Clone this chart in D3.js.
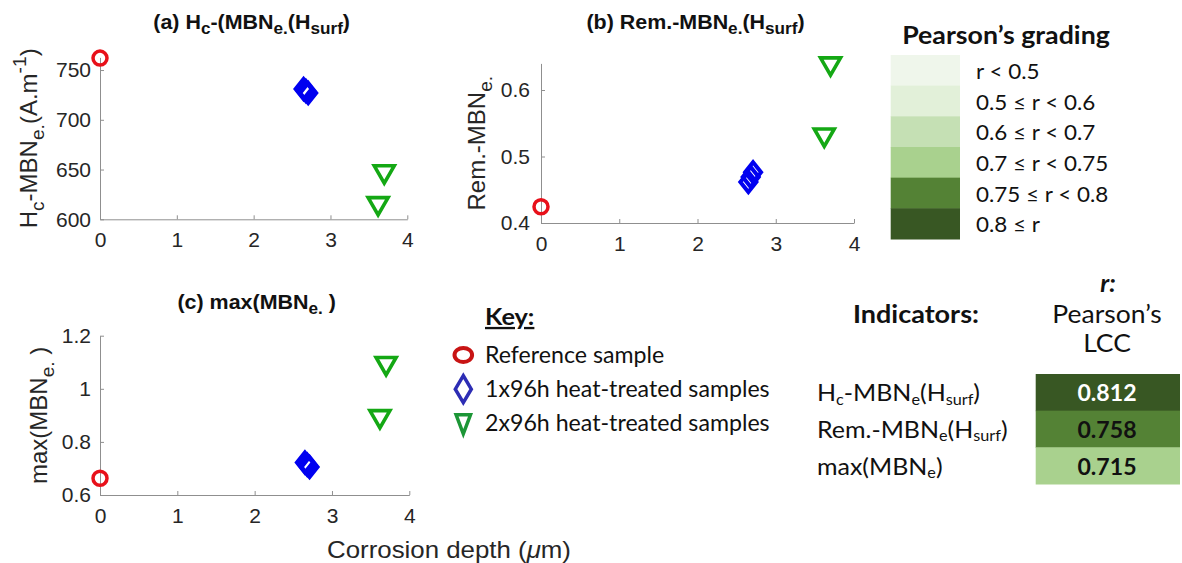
<!DOCTYPE html>
<html>
<head>
<meta charset="utf-8">
<script src="https://cdn.jsdelivr.net/npm/d3@7"></script>
<style>
  body { margin: 0; background: #fff; }
  svg { display: block; }
</style>
</head>
<body>
<svg id="fig" width="1182" height="563"></svg>
<script>
// ---- measured values per sample group ----
const depthRef = [0];
const depth1x = [2.65, 2.68, 2.71];
const depth2x = [3.62, 3.70];

const hcRef = [762];
const hc1x = [731, 729, 727];
const hc2x = [613.5, 645.5];

const remRef = [0.4245];
const rem1x = [0.4615, 0.469, 0.4765];
const rem2x = [0.529, 0.636];

const maxRef = [0.663];
const max1x = [0.7225, 0.714, 0.7055];
const max2x = [0.887, 1.087];

const xTicks = [0, 1, 2, 3, 4];
const hcTicks = [600, 650, 700, 750];
const remTicks = [0.4, 0.5, 0.6];
const maxTicks = [0.6, 0.8, 1, 1.2];

// Pearson grading legend
const gradeLabels = ["r < 0.5", "0.5 ≤ r < 0.6", "0.6 ≤ r < 0.7", "0.7 ≤ r < 0.75", "0.75 ≤ r < 0.8", "0.8 ≤ r"];
const gradeColors = ["#eff6eb", "#e2f0d9", "#c5e0b4", "#a9d18e", "#548235", "#385723"];
const gradeBreaks = [0.5, 0.6, 0.7, 0.75, 0.8];

// indicator table
const indicatorLabels = [
  [{t: "H"}, {t: "c", sub: 1}, {t: "-MBN"}, {t: "e", sub: 1}, {t: "(H"}, {t: "surf", sub: 1}, {t: ")"}],
  [{t: "Rem.-MBN"}, {t: "e", sub: 1}, {t: "(H"}, {t: "surf", sub: 1}, {t: ")"}],
  [{t: "max(MBN"}, {t: "e", sub: 1}, {t: ")"}]
];
const pearsonR = [0.812, 0.758, 0.715];

const keyLabels = ["Reference sample", "1x96h heat-treated samples", "2x96h heat-treated samples"];

// ---- styling ----
const MFONT = "'Liberation Sans', Arial, Helvetica, sans-serif";
const CFONT = "Lato, 'Open Sans', sans-serif";
const INK = "#262626";
const AXIS = "#8f8f8f";
const RED = "#e8101a", BLUE = "#0000f0", GREEN = "#14a814";

const svg = d3.select("#fig");
svg.append("rect").attr("width", 1182).attr("height", 563).attr("fill", "#fff");

// horizontal text anchored at (x, y), optionally widened by sx
function label(parent, x, y, sx) {
  return parent.append("text").attr("transform", `translate(${x},${y}) scale(${sx || 1},1)`);
}

// text with sub/superscripts built from tspans
function rich(text, parts, size, scale, subShift, supShift) {
  let cur = 0;
  parts.forEach(p => {
    const target = p.sub ? subShift * size : (p.sup ? -supShift * size : 0);
    const ts = text.append("tspan").text(p.t).attr("dy", target - cur);
    if (p.sub || p.sup) ts.attr("font-size", size * scale);
    if (p.it) ts.attr("font-style", "italic");
    cur = target;
  });
  return text;
}

// marker shapes (unfilled outlines)
function diamondPath(hw, hh) {
  const p = d3.path();
  p.moveTo(0, -hh); p.lineTo(hw, 0); p.lineTo(0, hh); p.lineTo(-hw, 0); p.closePath();
  return p.toString();
}
function triDownPath(hw, hTop, hBot) {
  const p = d3.path();
  p.moveTo(-hw, -hTop); p.lineTo(hw, -hTop); p.lineTo(0, hBot); p.closePath();
  return p.toString();
}

function panel(cfg) {
  const g = svg.append("g");
  const x = d3.scaleLinear().domain([0, 4]).range([cfg.x0, cfg.x1]);
  const y = d3.scaleLinear().domain(cfg.yDom).range([cfg.yb, cfg.yt]);

  const ax = g.append("g").attr("transform", `translate(0,${cfg.yb})`)
    .call(d3.axisBottom(x).tickValues(xTicks).tickSizeInner(-4).tickSizeOuter(0).tickPadding(13)
      .tickFormat(d3.format("~g")));
  const ay = g.append("g").attr("transform", `translate(${cfg.x0},0)`)
    .call(d3.axisLeft(y).tickValues(cfg.yTicks).tickSizeInner(-4).tickSizeOuter(0).tickPadding(cfg.yPad)
      .tickFormat(d3.format("~g")));
  [ax, ay].forEach(a => {
    a.select(".domain").attr("stroke", AXIS).attr("stroke-width", 1);
    a.selectAll(".tick line").attr("stroke", AXIS);
    a.selectAll(".tick text").attr("fill", INK).attr("font-family", MFONT).attr("font-size", 21);
  });

  // title
  rich(label(g, (cfg.x0 + cfg.x1) / 2 + cfg.titleDx, cfg.titleY, 1.1)
      .attr("text-anchor", "middle").attr("font-family", MFONT).attr("font-weight", "bold")
      .attr("font-size", 19.5).attr("fill", "#111"), cfg.title, 19.5, 0.8, 0.28, 0.4);

  // y label
  rich(g.append("text")
      .attr("transform", `translate(${cfg.ylabX},${(cfg.yb + cfg.yt) / 2}) rotate(-90)`)
      .attr("text-anchor", "middle").attr("font-family", MFONT)
      .attr("font-size", 24).attr("fill", INK), cfg.ylab, 24, 0.8, 0.28, 0.45);

  // markers
  g.selectAll(".ref").data(cfg.ref).join("circle")
    .attr("cx", x(depthRef[0])).attr("cy", d => y(d)).attr("r", 7)
    .attr("fill", "none").attr("stroke", RED).attr("stroke-width", 3.5);
  g.selectAll(".h1").data(cfg.one).join("path")
    .attr("d", diamondPath(8, 10))
    .attr("transform", (d, i) => `translate(${x(depth1x[i])},${y(d)})`)
    .attr("fill", "none").attr("stroke", BLUE).attr("stroke-width", 4).attr("stroke-linejoin", "miter");
  g.selectAll(".h2").data(cfg.two).join("path")
    .attr("d", triDownPath(10, 8.2, 9.1))
    .attr("transform", (d, i) => `translate(${x(depth2x[i])},${y(d)})`)
    .attr("fill", "none").attr("stroke", GREEN).attr("stroke-width", 3.6).attr("stroke-linejoin", "miter");
}

panel({
  x0: 100, x1: 407.3, yb: 219.3, yt: 57.4, yDom: [600, 762.7], yTicks: hcTicks, yPad: 9,
  ref: hcRef, one: hc1x, two: hc2x, titleY: 29, titleDx: -2,
  title: [{t: "(a) H"}, {t: "c", sub: 1}, {t: "-(MBN"}, {t: "e.", sub: 1}, {t: "(H"}, {t: "surf", sub: 1}, {t: ")"}],
  ylabX: 37,
  ylab: [{t: "H"}, {t: "c", sub: 1}, {t: "-MBN"}, {t: "e.", sub: 1}, {t: "(A.m"}, {t: "-1", sup: 1}, {t: ")"}]
});
panel({
  x0: 541, x1: 854, yb: 223, yt: 63.4, yDom: [0.4, 0.64], yTicks: remTicks, yPad: 11,
  ref: remRef, one: rem1x, two: rem2x, titleY: 29, titleDx: -2,
  title: [{t: "(b) Rem.-MBN"}, {t: "e.", sub: 1}, {t: "(H"}, {t: "surf", sub: 1}, {t: ")"}],
  ylabX: 485,
  ylab: [{t: "Rem.-MBN"}, {t: "e.", sub: 1}]
});
panel({
  x0: 100, x1: 409.3, yb: 495, yt: 335.7, yDom: [0.6, 1.2], yTicks: maxTicks, yPad: 9,
  ref: maxRef, one: max1x, two: max2x, titleY: 309, titleDx: 2,
  title: [{t: "(c) max(MBN"}, {t: "e.", sub: 1}, {t: " )"}],
  ylabX: 47,
  ylab: [{t: "max(MBN"}, {t: "e.", sub: 1}, {t: " )"}]
});

// shared x label
rich(label(svg, 449, 558, 1.1).attr("text-anchor", "middle")
    .attr("font-family", MFONT).attr("font-size", 23.5).attr("fill", INK),
  [{t: "Corrosion depth ("}, {t: "μ", it: 1}, {t: "m)"}], 23.5, 1, 0, 0);

// ---- key ----
const key = svg.append("g").attr("font-family", CFONT).attr("fill", "#111");
label(key, 485, 325, 1.1).attr("font-size", 23).attr("font-weight", "bold")
  .attr("text-decoration", "underline").text("Key:");
const keyY = d3.scalePoint().domain(keyLabels).range([355, 423.3]);
keyLabels.forEach(d => {
  label(key, 485, keyY(d) + 7.5, 1.03).attr("font-size", 22.5).text(d);
});
key.append("ellipse").attr("cx", 463.3).attr("cy", keyY(keyLabels[0])).attr("rx", 8.8).attr("ry", 7)
  .attr("fill", "none").attr("stroke", "#c81414").attr("stroke-width", 4);
key.append("path").attr("d", diamondPath(8, 13.5))
  .attr("transform", `translate(463.3,${keyY(keyLabels[1])})`)
  .attr("fill", "none").attr("stroke", "#2d2db4").attr("stroke-width", 3.5);
key.append("path").attr("d", triDownPath(7.2, 8.5, 10.5))
  .attr("transform", `translate(463.3,${keyY(keyLabels[2])})`)
  .attr("fill", "none").attr("stroke", "#1c9636").attr("stroke-width", 3.5);

// ---- Pearson's grading legend ----
const grade = svg.append("g").attr("font-family", CFONT).attr("fill", "#111");
label(grade, 1006, 44, 1.07).attr("text-anchor", "middle")
  .attr("font-size", 25).attr("font-weight", "bold").text("Pearson’s grading");
const gy = d3.scaleBand().domain(gradeLabels).range([55, 239]);
grade.selectAll(".gs").data(gradeLabels).join("rect")
  .attr("x", 890.7).attr("width", 69.3).attr("y", d => gy(d)).attr("height", gy.bandwidth() + 0.5)
  .attr("fill", (d, i) => gradeColors[i]);
gradeLabels.forEach(d => {
  label(grade, 976, gy(d) + gy.bandwidth() / 2 + 8.5, 1.02).attr("font-size", 22).text(d);
});

// ---- indicator table ----
const color = d3.scaleThreshold().domain(gradeBreaks).range(gradeColors);
const tbl = svg.append("g").attr("font-family", CFONT).attr("fill", "#111");
label(tbl, 1108, 292, 1.05).attr("text-anchor", "middle")
  .attr("font-size", 24).attr("font-weight", "bold").attr("font-style", "italic").text("r:");
label(tbl, 853, 323, 1.08).attr("font-size", 25).attr("font-weight", "bold").text("Indicators:");
label(tbl, 1107, 323, 1.06).attr("text-anchor", "middle").attr("font-size", 25).text("Pearson’s");
label(tbl, 1107, 352, 1.06).attr("text-anchor", "middle").attr("font-size", 25).text("LCC");
const ty = d3.scaleBand().domain(d3.range(pearsonR.length)).range([374, 484]);
tbl.selectAll(".cell").data(pearsonR).join("rect")
  .attr("x", 1035.7).attr("width", 144.3).attr("y", (d, i) => ty(i)).attr("height", ty.bandwidth() + 0.5)
  .attr("fill", d => color(d));
pearsonR.forEach((d, i) => {
  label(tbl, 1107, ty(i) + ty.bandwidth() / 2 + 9, 1.05)
    .attr("text-anchor", "middle").attr("font-size", 22).attr("font-weight", "bold")
    .attr("fill", d >= 0.8 ? "#fff" : "#111").text(d3.format(".3f")(d));
});
indicatorLabels.forEach((parts, i) => {
  rich(label(tbl, 817, ty(i) + ty.bandwidth() / 2 + 9, 1.04).attr("font-size", 24),
    parts, 24, 0.65, 0.14, 0.3);
});
</script>
</body>
</html>
